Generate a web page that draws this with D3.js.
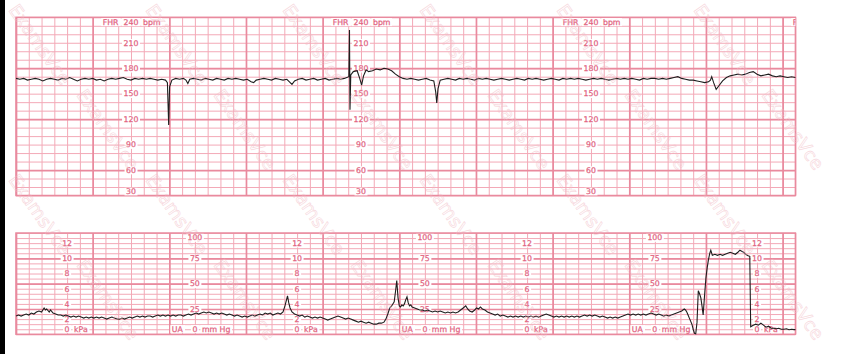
<!DOCTYPE html>
<html><head><meta charset="utf-8">
<script src="https://cdn.jsdelivr.net/npm/d3@7"></script>
<style>body{margin:0;background:#fff;} svg{display:block}</style>
</head><body><svg id="c" width="865" height="354"></svg>
<script>
// ---- tick labels ----
const fhrTicks = [210, 180, 150, 120, 90, 60];
const fhrTop = 240, fhrBottom = 30;
const kpaTicks = [12, 10, 8, 6, 4, 2];
const mmHgTicks = [100, 75, 50, 25];
const fhrScaleTimes = [90, 270, 450, 630];   // seconds where FHR scale is printed
const kpaScaleTimes = [40, 220, 400, 580];
const mmHgScaleTimes = [140, 320, 500];

// ---- FHR trace [seconds, bpm] ----
const fhr = [[0,168],[3,167],[6,168],[9,166],[12,167],[15,168],[18,167],[21,165],[24,167],[27,168],[30,167],[33,166],[36,168],[39,167],[42,169],[45,167],[48,165],[51,167],[54,168],[57,167],[60,168],[63,166],[66,167],[69,165],[72,167],[75,168],[78,167],[81,168],[84,169],[87,167],[90,166],[93,168],[96,167],[99,168],[102,167],[105,168],[108,167],[111,166],[114,167],[117,166],[118.5,163],[119.5,113],[120.2,158],[122,166],[125,168],[128,167],[131,168],[133,166],[134.5,162],[136,167],[139,168],[142,167],[145,166],[148,168],[151,167],[154,166],[157,168],[160,167],[163,166],[166,168],[169,167],[172,168],[175,167],[178,166],[181,167],[184,164],[186,163],[188,166],[191,167],[194,168],[197,167],[200,166],[203,168],[206,167],[209,166],[212,167],[214,164],[216,161],[218,165],[221,167],[224,168],[227,166],[230,167],[233,168],[236,166],[239,167],[242,168],[245,166],[248,167],[251,168],[254,167],[257,168],[260.5,170],[261,225],[261.4,131],[262,172],[264,176],[267,177],[269,168],[270.5,160],[272,171],[274,178],[276,176],[279,177],[282,179],[285,178],[288,180],[291,179],[294,177],[297,173],[300,170],[303,168],[306,167],[309,168],[312,167],[315,166],[318,167],[321,168],[324,166],[327,165],[328.5,152],[329.3,139],[330.3,156],[332,166],[335,167],[338,168],[341,167],[344,166],[347,168],[350,167],[353,168],[356,167],[359,166],[362,168],[365,167],[368,168],[371,167],[374,166],[377,167],[380,168],[383,167],[386,166],[389,167],[392,168],[395,167],[398,166],[401,168],[404,167],[407,168],[410,167],[413,166],[416,167],[419,168],[422,167],[425,166],[428,168],[431,167],[434,168],[437,167],[440,168],[443,167],[446,166],[449,167],[452,168],[455,167],[458,168],[461,167],[464,166],[467,167],[470,168],[473,167],[476,168],[479,167],[482,168],[485,167],[488,166],[491,168],[494,167],[497,168],[500,168],[503,167],[506,168],[509,167],[512,168],[515,169],[518,170],[521,168],[524,167],[527,166],[530,166],[533,165],[536,164],[539,163],[542,164],[543.5,166],[544.5,170],[546,163],[548,155],[550,159],[553,165],[556,169],[559,171],[562,172],[565,173],[568,172],[571,173],[574,175],[577,176],[580,173],[583,171],[586,172],[589,173],[592,171],[595,170],[598,171],[601,170],[604,169],[607,170],[610,169]];

// ---- UA trace [seconds, mmHg] ----
const ua = [[0,18],[2,19],[4,18],[6,19],[8,20],[10,19],[12,21],[14,20],[16,22],[18,23],[20,22],[22,26],[23,24],[24,25],[26,22],[27,24],[29,21],[31,20],[33,19],[35,19],[37,18],[39,19],[41,18],[43,17],[45,18],[47,17],[49,18],[51,17],[53,16],[55,17],[57,16],[59,17],[61,16],[63,17],[65,16],[67,17],[69,16],[71,15],[73,16],[75,17],[77,16],[79,15],[81,15],[83,16],[85,15],[87,16],[89,17],[91,16],[93,17],[95,18],[97,17],[99,18],[101,17],[103,18],[105,18],[107,17],[109,18],[111,19],[113,18],[115,19],[117,18],[119,19],[121,18],[123,19],[125,18],[127,19],[129,19],[131,18],[133,19],[135,20],[137,19],[139,20],[141,21],[143,20],[145,21],[147,22],[149,21],[151,22],[153,21],[155,20],[157,21],[159,20],[161,21],[163,20],[165,19],[167,20],[169,19],[171,18],[173,19],[175,18],[177,17],[179,18],[181,17],[183,18],[185,19],[187,18],[189,19],[191,20],[193,19],[195,21],[197,20],[199,21],[201,19],[203,20],[205,21],[207,20],[209,22],[210.5,28],[211.5,33],[212.5,38],[213.5,31],[214.5,26],[216,22],[218,20],[220,19],[222,18],[224,19],[226,17],[228,18],[230,17],[232,16],[234,17],[236,16],[238,17],[240,16],[242,15],[244,14],[246,15],[248,16],[250,17],[252,18],[254,17],[256,16],[258,15],[260,16],[262,15],[264,14],[266,13],[268,12],[270,13],[272,12],[274,11],[276,12],[278,11],[280,10],[282,10],[284,11],[286,11],[288,12],[289.5,15],[291,20],[292.5,26],[294,28],[296,32],[297,42],[298,53],[299,36],[300,28],[301,27],[302,29],[303,28],[304,30],[305,34],[306,37],[307,31],[308,28],[309,29],[310,27],[312,26],[314,25],[316,24],[318,24],[320,23],[322,24],[324,23],[326,22],[328,23],[330,22],[332,23],[334,22],[336,21],[338,22],[340,21],[342,22],[344,21],[346,22],[348,24],[350,26],[352,28],[353.5,25],[355,23],[357,22],[359,24],[360.5,26],[362,25],[363.5,27],[365,25],[367,24],[369,22],[371,21],[373,20],[375,19],[377,20],[379,18],[381,19],[383,18],[385,17],[387,18],[389,17],[391,18],[393,17],[395,18],[397,17],[399,18],[401,17],[403,18],[405,17],[407,18],[409,17],[411,18],[413,19],[415,20],[417,19],[419,18],[421,17],[423,18],[425,17],[427,18],[429,17],[431,18],[433,17],[435,18],[437,17],[439,18],[441,17],[443,18],[445,19],[447,18],[449,19],[451,18],[453,19],[455,18],[457,17],[459,18],[461,17],[463,16],[465,17],[467,16],[469,17],[471,16],[473,17],[475,18],[477,19],[479,20],[481,19],[483,20],[485,19],[487,20],[489,19],[491,20],[493,19],[495,20],[497,21],[499,20],[501,19],[503,20],[505,19],[507,18],[509,19],[511,18],[513,19],[515,20],[517,21],[519,22],[521,23],[523,25],[524,24],[525,22],[526,19],[527,16],[528,13],[529,10],[530,5],[531,1],[532,0.5],[533,12],[534,43],[535,40],[536,36],[537,27],[537.8,19],[539,40],[540,56],[541,66],[542,74],[543,80],[543.8,83],[545,78],[547,79],[549,78],[551,79],[553,78],[555,79],[557,80],[559,81],[561,80],[563,79],[565,81],[566.6,83],[568,82],[569.5,81],[571,79],[573,77.5],[574.3,77],[575,7.5],[577,9],[579,10],[581,9],[583,11],[585,9],[587,7],[589,8],[591,6],[593,6],[595,5.5],[597,6],[599,5],[601,5],[603,5.5],[605,4.5],[607,5],[609,4.6],[610,4.6]];

// ---- layout ----
const svg = d3.select('#c');
const x = d3.scaleLinear().domain([0, 610]).range([16, 795.4]);
const yF = d3.scaleLinear().domain([30, 240]).range([195.5, 17.3]);
const yU = d3.scaleLinear().domain([0, 100]).range([334.3, 233]);
const kpaToMm = k => k * 7.50062;

const MINOR = '#f3a9b7', MAJOR = '#e98a9e', LABEL = '#e2637f';

svg.append('rect').attr('x', 0).attr('y', 0).attr('width', 5).attr('height', 354).attr('fill', '#000');

function drawGrid(y, minorVals, majorVals) {
  const [b, t] = y.range();
  const g = svg.append('g');
  const styleAxis = (sel, col, w) => {
    sel.select('.domain').remove();
    sel.selectAll('.tick line').attr('stroke', col).attr('stroke-width', w);
  };
  g.append('g').attr('transform', `translate(0,${b})`)
    .call(d3.axisBottom(x).tickValues(d3.range(0, 611, 10)).tickSize(-(b - t)).tickFormat(''))
    .call(s => styleAxis(s, MINOR, 1));
  g.append('g').attr('transform', `translate(${x(0)},0)`)
    .call(d3.axisLeft(y).tickValues(minorVals).tickSize(-(x(610) - x(0))).tickFormat(''))
    .call(s => styleAxis(s, MINOR, 1));
  g.append('g').attr('transform', `translate(0,${b})`)
    .call(d3.axisBottom(x).tickValues(d3.range(0, 601, 60)).tickSize(-(b - t)).tickFormat(''))
    .call(s => styleAxis(s, MAJOR, 1.7));
  g.append('g').attr('transform', `translate(${x(0)},0)`)
    .call(d3.axisLeft(y).tickValues(majorVals).tickSize(-(x(610) - x(0))).tickFormat(''))
    .call(s => styleAxis(s, MAJOR, 1.7));
  g.append('rect').attr('x', x(0)).attr('y', t).attr('width', x(610) - x(0)).attr('height', b - t)
    .attr('fill', 'none').attr('stroke', MAJOR).attr('stroke-width', 1.5);
}
drawGrid(yF, d3.range(30, 241, 10), [60, 120, 180]);
drawGrid(yU, d3.range(0, 101, 5), [25, 50, 75]);

// clip paths for labels
const defs = svg.append('defs');
defs.append('clipPath').attr('id', 'cf').append('rect')
  .attr('x', x(0)).attr('y', yF(240)).attr('width', x(610) - x(0)).attr('height', yF(30) - yF(240));
defs.append('clipPath').attr('id', 'cu').append('rect')
  .attr('x', x(0)).attr('y', yU(100)).attr('width', x(610) - x(0)).attr('height', yU(0) - yU(100));

const FONT = 'DejaVu Sans';
function label(g, txt, cx, cy, anchor) {
  const t = g.append('text').attr('x', cx).attr('y', cy).attr('dy', '0.36em')
    .attr('text-anchor', anchor || 'middle').attr('font-family', FONT).attr('font-size', 7.8)
    .attr('fill', LABEL).attr('stroke', LABEL).attr('stroke-width', 0.25).text(txt);
  const bb = t.node().getBBox();
  g.insert('rect', () => t.node()).attr('x', bb.x - 1.5).attr('y', bb.y + 0.5)
    .attr('width', bb.width + 3).attr('height', bb.height - 1).attr('fill', '#fff');
  return t;
}

const gF = svg.append('g').attr('clip-path', 'url(#cf)');
fhrScaleTimes.forEach(s => {
  const cx = x(s);
  fhrTicks.forEach(v => label(gF, v, cx, yF(v)));
  label(gF, fhrBottom, cx, yF(fhrBottom) - 4);
  const ty = yF(fhrTop) + 4.5;
  label(gF, 'FHR', cx - 12.5, ty, 'end');
  label(gF, fhrTop, cx, ty);
  label(gF, 'bpm', cx + 12, ty, 'start');
});

const gU = svg.append('g').attr('clip-path', 'url(#cu)');
kpaScaleTimes.forEach(s => {
  const cx = x(s);
  kpaTicks.forEach(v => label(gU, v, cx, yU(kpaToMm(v))));
  const ty = yU(0) - 5.5;
  label(gU, '0', cx, ty);
  label(gU, 'kPa', cx + 7, ty, 'start');
});
mmHgScaleTimes.forEach(s => {
  const cx = x(s);
  mmHgTicks.forEach(v => label(gU, v, cx, v === 100 ? yU(v) + 4.5 : yU(v)));
  const ty = yU(0) - 5.5;
  label(gU, 'UA', cx - 12, ty, 'end');
  label(gU, '0', cx, ty);
  label(gU, 'mm Hg', cx + 7, ty, 'start');
});

// traces
const lineF = d3.line().x(d => x(d[0])).y(d => yF(d[1]));
const lineU = d3.line().x(d => x(d[0])).y(d => yU(d[1]));
svg.append('path').datum(fhr).attr('d', lineF).attr('fill', 'none').attr('stroke', '#1e1e1e').attr('stroke-width', 1.1);
svg.append('path').datum(ua).attr('d', lineU).attr('fill', 'none').attr('stroke', '#1e1e1e').attr('stroke-width', 1.1);

// watermark (faint, kept fully inside the picture)
const wm = svg.append('g').attr('pointer-events', 'none');
const rowsY = [10, 95, 180, 265];
rowsY.forEach((py, i) => {
  for (let px = (i % 2) * 68 + 8; px <= 790; px += 137) {
    wm.append('text').attr('transform', `translate(${px},${py}) rotate(55)`)
      .attr('font-family', FONT).attr('font-size', 18).attr('fill', 'none')
      .attr('stroke', '#f2bcc6').attr('stroke-width', 0.6).attr('opacity', 0.6)
      .text('ExamsVce');
  }
});
</script></body></html>
